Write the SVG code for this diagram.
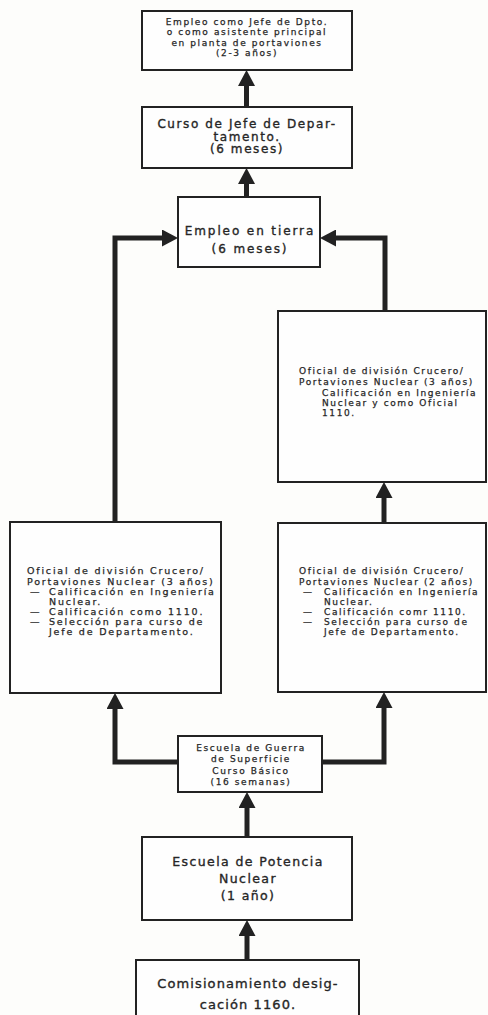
<svg xmlns="http://www.w3.org/2000/svg" width="488" height="1015" viewBox="0 0 488 1015">
<style>
.bg{fill:#fdfdfb}
.box{fill:#fefefe;stroke:#222;stroke-width:2}
.t{font-family:"DejaVu Sans","Liberation Sans",sans-serif;fill:#262626;stroke:#262626;stroke-width:0.25}
.s{font-size:9px;letter-spacing:1.6px}
.sl{font-size:9.5px;letter-spacing:1.8px}
.m{font-size:12px;letter-spacing:1.6px;stroke-width:0.35}
.c{text-anchor:middle}
.con{fill:none;stroke:#222;stroke-width:5;stroke-linejoin:miter}
</style>
<defs>
<marker id="ah" markerUnits="userSpaceOnUse" viewBox="0 0 16 17" markerWidth="16" markerHeight="17" refX="1" refY="8.5" orient="auto">
<path d="M0,0 L16,8.5 L0,17 z" fill="#222"/>
</marker>
</defs>
<rect class="bg" x="0" y="0" width="488" height="1015"/>
<g id="connectors">
<path class="con" d="M246.5,107 V85" marker-end="url(#ah)"/>
<path class="con" d="M246.5,197 V183" marker-end="url(#ah)"/>
<path class="con" d="M115,522 V238 H163" marker-end="url(#ah)"/>
<path class="con" d="M385,311 V238 H335" marker-end="url(#ah)"/>
<path class="con" d="M384,523 V497" marker-end="url(#ah)"/>
<path class="con" d="M178,762 H115 V708" marker-end="url(#ah)"/>
<path class="con" d="M322,762 H384 V707" marker-end="url(#ah)"/>
<path class="con" d="M247,837 V807" marker-end="url(#ah)"/>
<path class="con" d="M247,960 V935" marker-end="url(#ah)"/>
</g>
<g id="n-empleo-jefe">
<rect class="box" x="142" y="11" width="210" height="59"/>
<text class="t s c" x="247" y="24.5">Empleo como Jefe de Dpto.</text>
<text class="t s c" x="247" y="35">o como asistente principal</text>
<text class="t s c" x="247" y="45.5">en planta de portaviones</text>
<text class="t s c" x="247" y="56">(2-3 años)</text>
</g>
<g id="n-curso-jefe">
<rect class="box" x="142" y="107" width="210" height="61"/>
<text class="t m c" x="247" y="128">Curso de Jefe de Depar-</text>
<text class="t m c" x="247" y="140.5">tamento.</text>
<text class="t m c" x="247" y="153">(6 meses)</text>
</g>
<g id="n-empleo-tierra">
<rect class="box" x="178" y="197" width="142" height="70"/>
<text class="t m c" x="250" y="234.5" style="letter-spacing:1.9px">Empleo en tierra</text>
<text class="t m c" x="250" y="252.5" style="letter-spacing:1.9px">(6 meses)</text>
</g>
<g id="n-oficial-ru">
<rect class="box" x="278" y="311" width="208" height="171"/>
<text class="t s" x="299" y="374">Oficial de división Crucero/</text>
<text class="t s" x="299" y="384.5">Portaviones Nuclear (3 años)</text>
<text class="t s" x="322" y="395.5">Calificación en Ingeniería</text>
<text class="t s" x="322" y="406">Nuclear y como Oficial</text>
<text class="t s" x="322" y="416">1110.</text>
</g>
<g id="n-oficial-ll">
<rect class="box" x="10" y="522" width="211" height="171"/>
<text class="t sl" x="27" y="574">Oficial de división Crucero/</text>
<text class="t sl" x="27" y="584.5">Portaviones Nuclear (3 años)</text>
<text class="t sl" x="30" y="595">—</text>
<text class="t sl" x="49" y="595">Calificación en Ingeniería</text>
<text class="t sl" x="49" y="605">Nuclear.</text>
<text class="t sl" x="30" y="615">—</text>
<text class="t sl" x="49" y="615">Calificación como 1110.</text>
<text class="t sl" x="30" y="625">—</text>
<text class="t sl" x="49" y="625">Selección para curso de</text>
<text class="t sl" x="49" y="635">Jefe de Departamento.</text>
</g>
<g id="n-oficial-rl">
<rect class="box" x="278" y="523" width="208" height="169"/>
<text class="t s" x="299" y="574">Oficial de división Crucero/</text>
<text class="t s" x="299" y="584.5">Portaviones Nuclear (2 años)</text>
<text class="t s" x="303" y="595">—</text>
<text class="t s" x="324" y="595">Calificación en Ingeniería</text>
<text class="t s" x="324" y="605">Nuclear.</text>
<text class="t s" x="303" y="615">—</text>
<text class="t s" x="324" y="615">Calificación comr  1110.</text>
<text class="t s" x="303" y="625">—</text>
<text class="t s" x="324" y="625">Selección para curso de</text>
<text class="t s" x="324" y="635">Jefe de Departamento.</text>
</g>
<g id="n-escuela-guerra">
<rect class="box" x="178" y="736" width="144" height="56"/>
<text class="t s c" x="251" y="750.5">Escuela de Guerra</text>
<text class="t s c" x="251" y="762">de Superficie</text>
<text class="t s c" x="251" y="773.5">Curso Básico</text>
<text class="t s c" x="251" y="785">(16 semanas)</text>
</g>
<g id="n-escuela-nuclear">
<rect class="box" x="142" y="837" width="210" height="83"/>
<text class="t m c" x="248" y="866" style="font-size:12.5px;letter-spacing:1.4px">Escuela de Potencia</text>
<text class="t m c" x="248" y="883" style="font-size:12.5px;letter-spacing:1.4px">Nuclear</text>
<text class="t m c" x="248" y="899.5" style="font-size:12.5px;letter-spacing:1.4px">(1 año)</text>
</g>
<g id="n-comisionamiento">
<rect class="box" x="136" y="960" width="223" height="70"/>
<text class="t m c" x="248" y="987.5" style="font-size:13px;letter-spacing:1.1px">Comisionamiento desig-</text>
<text class="t m c" x="248" y="1008.5" style="font-size:13px;letter-spacing:1.1px">cación 1160.</text>
</g>
</svg>
